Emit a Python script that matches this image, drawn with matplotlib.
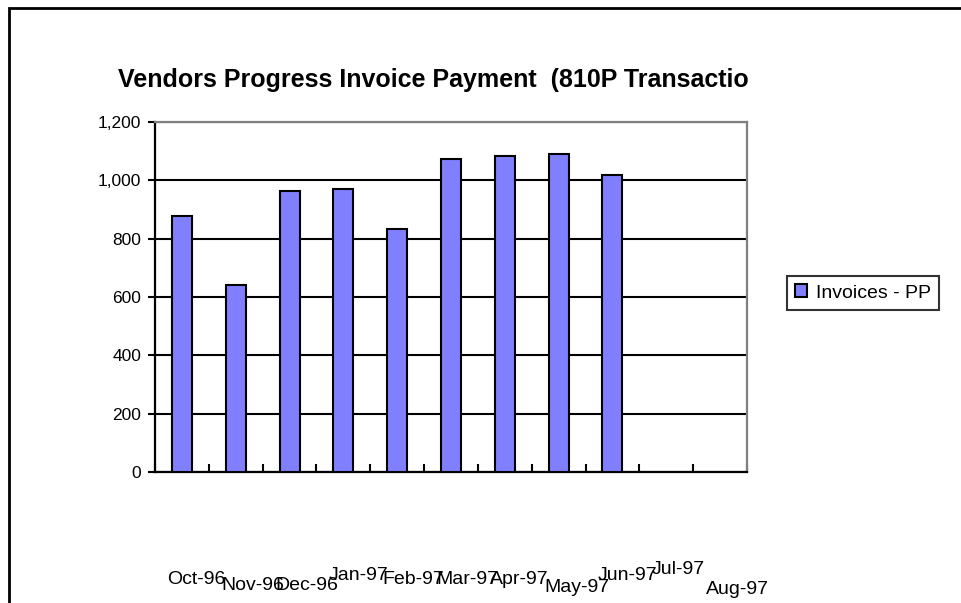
import matplotlib.pyplot as plt
import matplotlib.transforms as mtransforms
from matplotlib.patches import Rectangle
from matplotlib.ticker import FuncFormatter

months = ['Oct-96', 'Nov-96', 'Dec-96', 'Jan-97', 'Feb-97', 'Mar-97',
          'Apr-97', 'May-97', 'Jun-97', 'Jul-97', 'Aug-97']
invoices = [879, 640, 963, 972, 834, 1072, 1082, 1092, 1017]
yticks = [0, 200, 400, 600, 800, 1000, 1200]

# the category labels in the original are jumbled up and down
label_dy = [0, 5, 5, -4, 0, 0, 0, 7, -4, -10, 9]

plt.rcParams['font.family'] = ['Liberation Sans', 'DejaVu Sans']

fig = plt.figure(figsize=(9.61, 6.03), dpi=100)
W, H = 961, 603

# outer frame, cut off at right and bottom
fig.patches.append(Rectangle((8.7 / W, -0.1), 1.2, (1 - 8.0 / H) + 0.1,
                             transform=fig.transFigure, fill=False,
                             edgecolor='black', lw=2, zorder=0))

ax = fig.add_axes([155 / W, 1 - 472 / H, 592 / W, 350 / H])

x = list(range(len(invoices)))
ax.bar(x, invoices, width=0.37, color='#8080FF', edgecolor='black',
       linewidth=1.5, label='Invoices - PP', zorder=3)

ax.set_xlim(-0.5, len(months) - 0.5)
ax.set_ylim(0, 1200)
ax.set_yticks(yticks)
ax.yaxis.set_major_formatter(FuncFormatter(lambda v, p: f'{int(v):,}'))
ax.yaxis.grid(True, color='black', lw=1.5, zorder=1)
ax.set_axisbelow(True)

ax.set_xticks([k - 0.5 for k in range(len(months) + 1)])
ax.set_xticklabels([])
ax.tick_params(axis='x', direction='in', length=6, width=1.5, color='black')
ax.tick_params(axis='y', direction='out', length=5, width=1.5,
               labelsize=12.5, pad=5)

for side in ['left', 'bottom']:
    ax.spines[side].set_color('black')
    ax.spines[side].set_linewidth(1.6)
for side in ['top', 'right']:
    ax.spines[side].set_color('#808080')
    ax.spines[side].set_linewidth(1.6)

trans = mtransforms.blended_transform_factory(ax.transData, fig.transFigure)
for i, m in enumerate(months):
    ax.text(i - 0.27, 1 - (580 + label_dy[i]) / H, m, transform=trans,
            ha='left', va='center', fontsize=14, clip_on=False)

# title is cut off at the right in the original
title = fig.text(118 / W, 1 - 80 / H,
                 'Vendors Progress Invoice Payment  (810P Transactions)',
                 fontsize=18, fontweight='bold', ha='left', va='center')
title.set_clip_on(True)
title.set_clip_box(mtransforms.Bbox.from_extents(0, 0, 748, H))

leg = ax.legend(loc='center', bbox_to_anchor=(863 / W, 1 - 293 / H),
                bbox_transform=fig.transFigure, fontsize=14,
                frameon=True, fancybox=False, handlelength=0.6,
                handleheight=0.6, handletextpad=0.45, borderpad=0.45,
                borderaxespad=0)
leg.get_frame().set_edgecolor('black')
leg.get_frame().set_linewidth(1.5)

fig.savefig('out.png', dpi=100)
